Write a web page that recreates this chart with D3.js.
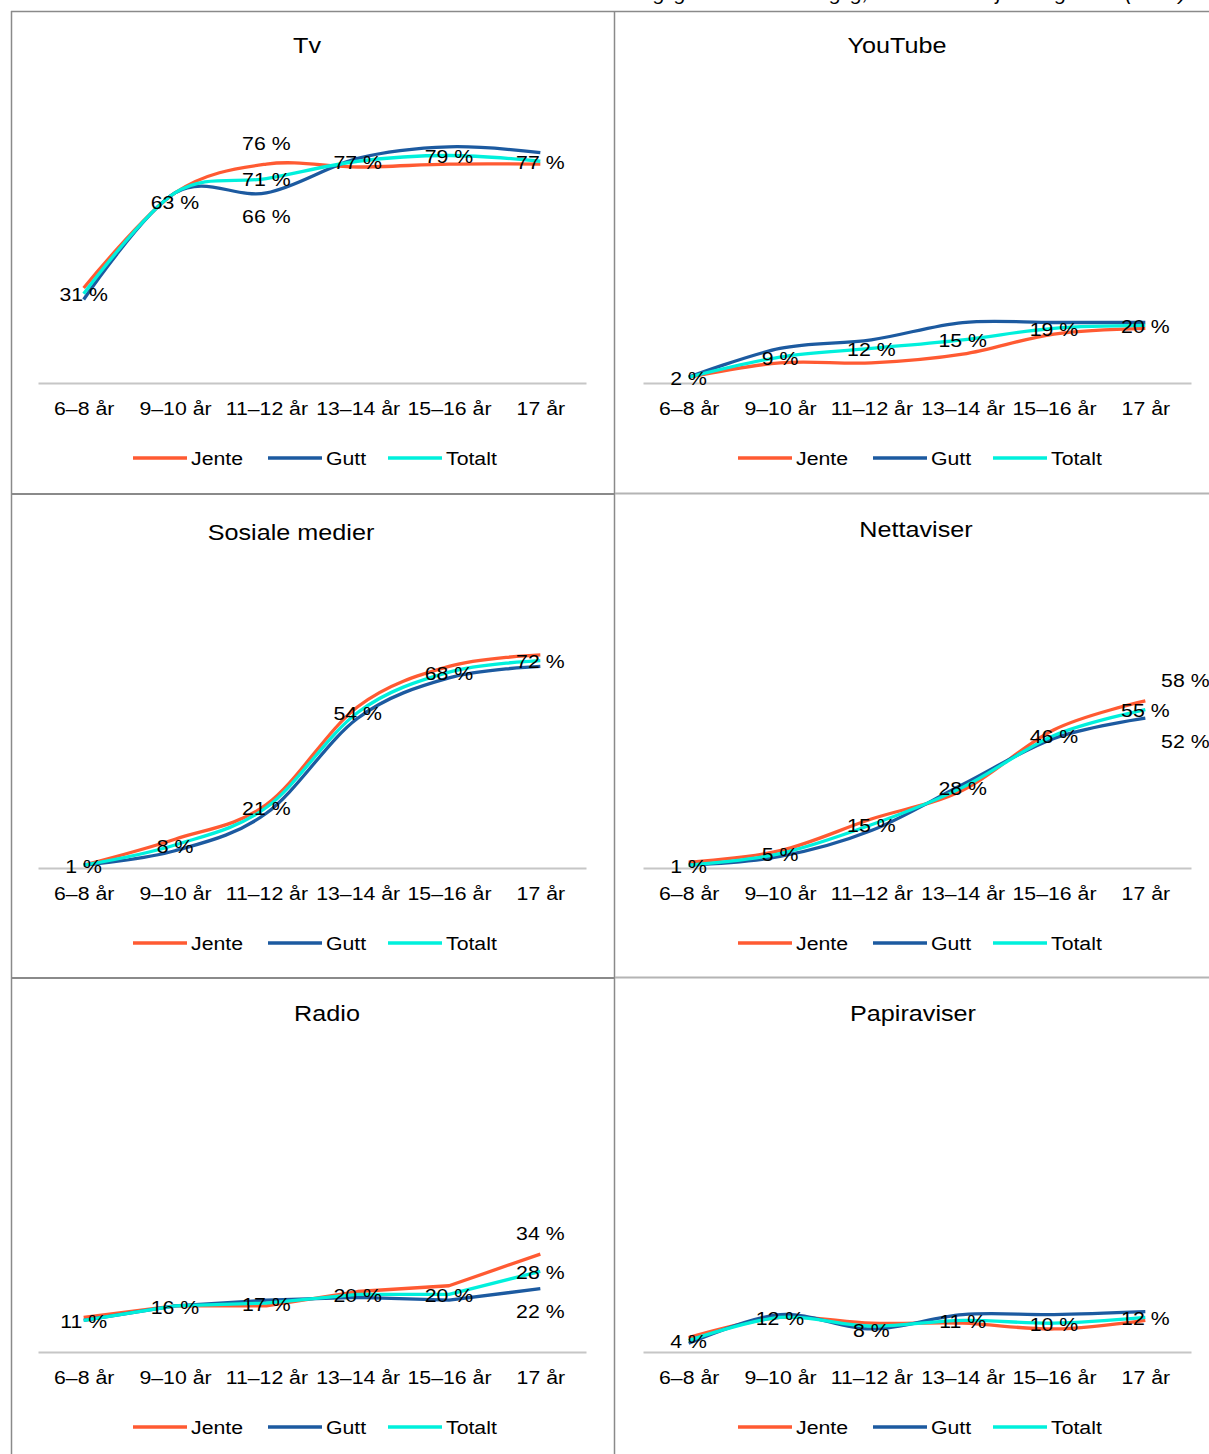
<!DOCTYPE html>
<html><head><meta charset="utf-8">
<script src="https://cdn.jsdelivr.net/npm/d3@7"></script>
<style>
body{margin:0;background:#fff}
svg{display:block}
text{font-family:"Liberation Sans",Arial,Helvetica,sans-serif;fill:#000}
</style>
</head><body>
<svg id="chart" width="1209" height="1454"></svg>
<script>
// ---------- DATA ----------
const categories = ["6–8 år","9–10 år","11–12 år","13–14 år","15–16 år","17 år"];
const seriesNames = ["Jente","Gutt","Totalt"];
const pageTitle = "Andel som bruker ulike medier daglig eller nesten daglig, fordelt etter kjønn og alder (2020)";

const tvJente  = [33,66,76,75,76,76];
const tvGutt   = [29,66,66,78,82,80];
const tvTotalt = [31,66,71,77,79,77];
const tvLabels = [31,63,71,77,79,77];
const tvExtra  = [{cat:"11–12 år",series:"Jente",value:76},{cat:"11–12 år",series:"Gutt",value:66}];

const ytJente  = [2,7,7,10,17,19];
const ytGutt   = [2,12,15,21,21,21];
const ytTotalt = [2,9,12,15,19,20];
const ytLabels = [2,9,12,15,19,20];
const ytExtra  = [];

const smJente  = [1,10,22,56,70,74];
const smGutt   = [1,6,19,52,66,70];
const smTotalt = [1,8,21,54,68,72];
const smLabels = [1,8,21,54,68,72];
const smExtra  = [];

const naJente  = [2,6,17,27,48,58];
const naGutt   = [1,4,13,29,45,52];
const naTotalt = [1,5,15,28,46,55];
const naLabels = [1,5,15,28,46,55];
const naExtra  = [{cat:"17 år",series:"Jente",value:58},{cat:"17 år",series:"Gutt",value:52}];

const raJente  = [12,16,16,21,23,34];
const raGutt   = [11,16,18,19,18,22];
const raTotalt = [11,16,17,20,20,28];
const raLabels = [11,16,17,20,20,28];
const raExtra  = [{cat:"17 år",series:"Jente",value:34},{cat:"17 år",series:"Gutt",value:22}];

const paJente  = [5,12,10,10,8,11];
const paGutt   = [3,13,8,13,13,14];
const paTotalt = [4,12,9,11,10,12];
const paLabels = [4,12,8,11,10,12];
const paExtra  = [];

// ---------- LAYOUT / STYLE ----------
const colors = {Jente:"#ff5a32", Gutt:"#1c5aa0", Totalt:"#00f0dc"};
const SX = 1.12;
const colX = [38, 643];
const rowBase = [383, 868, 1352];
const plotW = 548, plotH = 288;

const panels = [
  {title:"Tv", col:0,row:0, tx:307, ty:45, d:[tvJente,tvGutt,tvTotalt], labels:tvLabels, extra:tvExtra, smooth:true, extraDx:0},
  {title:"YouTube", col:1,row:0, tx:897, ty:45, d:[ytJente,ytGutt,ytTotalt], labels:ytLabels, extra:ytExtra, smooth:true, extraDx:0},
  {title:"Sosiale medier", col:0,row:1, tx:291, ty:532, d:[smJente,smGutt,smTotalt], labels:smLabels, extra:smExtra, smooth:true, extraDx:0},
  {title:"Nettaviser", col:1,row:1, tx:916, ty:529, d:[naJente,naGutt,naTotalt], labels:naLabels, extra:naExtra, smooth:true, extraDx:40},
  {title:"Radio", col:0,row:2, tx:327, ty:1013, d:[raJente,raGutt,raTotalt], labels:raLabels, extra:raExtra, smooth:false, extraDx:0},
  {title:"Papiraviser", col:1,row:2, tx:913, ty:1013, d:[paJente,paGutt,paTotalt], labels:paLabels, extra:paExtra, smooth:true, extraDx:0}
];

const svg = d3.select("#chart");

function txt(g, x, y, s, size, anchor){
  return g.append("text")
    .attr("transform", `translate(${x},${y}) scale(${SX},1)`)
    .attr("text-anchor", anchor || "middle")
    .attr("dy", "0.35em")
    .style("font-size", size + "px")
    .text(s);
}

// page title (cut off at top, as in the reference)
svg.append("text")
  .attr("x", 1186).attr("y", 0)
  .attr("text-anchor","end")
  .style("font-size","21px").style("font-style","italic")
  .text(pageTitle);

// grid borders
const border = svg.append("g").attr("fill","none");
border.append("line").attr("x1",11.5).attr("x2",11.5).attr("y1",11).attr("y2",1454).attr("stroke","#8a8a8a").attr("stroke-width",1.5);
border.append("line").attr("x1",614.5).attr("x2",614.5).attr("y1",11).attr("y2",1454).attr("stroke","#8a8a8a").attr("stroke-width",1.5);
border.append("line").attr("x1",11).attr("x2",1209).attr("y1",11.5).attr("y2",11.5).attr("stroke","#8a8a8a").attr("stroke-width",1.5);
[494, 978].forEach(y=>{
  border.append("line").attr("x1",11).attr("x2",614).attr("y1",y).attr("y2",y).attr("stroke","#8a8a8a").attr("stroke-width",2);
  border.append("line").attr("x1",615).attr("x2",1209).attr("y1",y-0.5).attr("y2",y-0.5).attr("stroke","#b4b4b4").attr("stroke-width",2);
});

panels.forEach(p=>{
  const x0 = colX[p.col], base = rowBase[p.row];
  const g = svg.append("g");
  const x = d3.scalePoint().domain(categories).range([x0, x0+plotW]).padding(0.5);
  const y = d3.scaleLinear().domain([0,100]).range([base, base-plotH]);

  // title
  txt(g, p.tx, p.ty, p.title, 22.5);

  // category axis
  const ax = g.append("g").attr("transform",`translate(0,${base})`)
    .call(d3.axisBottom(x).tickSize(0).tickSizeOuter(0));
  ax.select(".domain").attr("stroke","#c6c6c6").attr("stroke-width",2);
  ax.selectAll(".tick text")
    .attr("y", 25.5).attr("dy","0.35em")
    .attr("transform",`scale(${SX},1)`)
    .style("font-size","19px")
    .style("font-family",'"Liberation Sans",Arial,sans-serif')
    .attr("fill","#000");

  // lines
  const line = d3.line()
    .x((v,i)=>x(categories[i]))
    .y(v=>y(v))
    .curve(p.smooth ? d3.curveCatmullRom.alpha(0) : d3.curveLinear);
  seriesNames.forEach((s,si)=>{
    g.append("path").datum(p.d[si])
      .attr("d", line)
      .attr("fill","none")
      .attr("stroke", colors[s])
      .attr("stroke-width", 3.3)
      .attr("stroke-linejoin","round");
  });

  // labels (totalt)
  p.labels.forEach((v,i)=>{
    txt(g, x(categories[i]), y(v)+1, v + " %", 19);
  });
  // extra labels for Jente / Gutt
  p.extra.forEach(e=>{
    const ci = categories.indexOf(e.cat);
    const tot = p.d[2][ci];
    const above = e.value >= tot;
    txt(g, x(e.cat) + p.extraDx, y(e.value) + (above ? -21 : 23), e.value + " %", 19);
  });

  // legend
  const ly = base + 75;
  const legX = [95, 230, 350];
  seriesNames.forEach((s,si)=>{
    const lx = x0 + legX[si];
    g.append("line").attr("x1",lx).attr("x2",lx+54).attr("y1",ly).attr("y2",ly)
      .attr("stroke",colors[s]).attr("stroke-width",3.3);
    txt(g, lx+58, ly, s, 19, "start");
  });
});
</script>
</body></html>
